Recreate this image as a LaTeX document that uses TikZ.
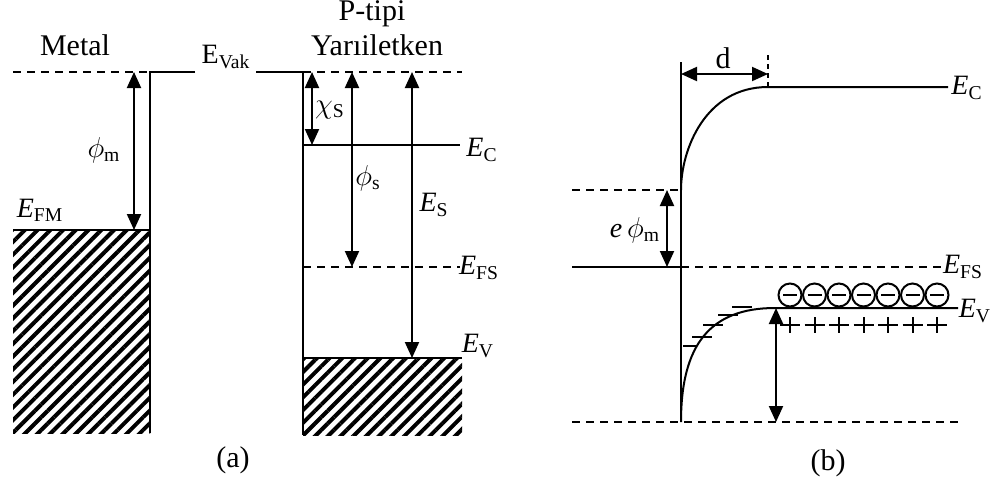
\documentclass[tikz,border=0pt]{standalone}
\usepackage{fontspec}
\setmainfont{Liberation Serif}
\usepackage{tikz}
\usetikzlibrary{arrows.meta,patterns.meta}

\newcommand{\Eseviye}[1]{\textit{E}\textsubscript{#1}}

\begin{document}
\begin{tikzpicture}[x=0.5pt, y=-0.5pt, line width=1pt,
  font=\fontsize{14}{16}\selectfont,
  baslik/.style={font=\fontsize{15}{17}\selectfont},
  kesik/.style={dash pattern=on 4pt off 3pt},
  ok/.style={{Triangle[length=8pt,width=7pt]}-{Triangle[length=8pt,width=7pt]}},
  tarali/.style={pattern={Lines[angle=45,distance=4.5pt,line width=2pt]}}]

\useasboundingbox (0,0) rectangle (1000,484);

% (a) Metal
\fill[tarali] (13,230) rectangle (150,433);
\draw (13,230) -- (150,230);
\draw[kesik] (13,72) -- (150,72);
\draw (195,72) -- (150,72) -- (150,433);

% (a) Yariiletken
\fill[tarali] (303,358) rectangle (462,435);
\draw (256,72) -- (303,72) -- (303,435);
\draw[kesik] (303,72) -- (462,72);
\draw (303,145) -- (460,145);
\draw[kesik] (303,267) -- (460,267);
\draw (303,358) -- (462,358);

% Oklar
\coordinate (phim1) at (134,72);
\coordinate (phim2) at (134,230);
\coordinate (chi1) at (312,72);
\coordinate (chi2) at (312,145);
\coordinate (phis1) at (352,72);
\coordinate (phis2) at (352,267);
\coordinate (es1) at (412,72);
\coordinate (es2) at (412,358);
\draw[ok] (phim1) -- (phim2);
\draw[ok] (chi1) -- (chi2);
\draw[ok] (phis1) -- (phis2);
\draw[ok] (es1) -- (es2);

% Etiketler
\node[baslik] (metal) at (75,45) {Metal};
\node[baslik] (ptipi) at (372,14) {P-tipi};
\node[baslik] (yari) at (377,45) {Yarıiletken};
\node (evak) at (226,57) {E\textsubscript{Vak}};
\node (efm) at (40,210) {\Eseviye{FM}};
\node (phim) at (104,150) {$\phi$\textsubscript{m}};
\node (chis) at (330,110) {$\chi$\textsubscript{S}};
\node (phis) at (368,178) {$\phi$\textsubscript{s}};
\node (es) at (434,205) {\Eseviye{S}};
\node (ec) at (482,150) {\Eseviye{C}};
\node (efs) at (479,268) {\Eseviye{FS}};
\node (ev) at (478,346) {\Eseviye{V}};
\node[baslik] (a) at (233,460) {(a)};

% (b) Bant bukulmesi
\draw (681,62) -- (681,422);
\draw (681,190) .. controls (681,150) and (705,87) .. (768,87) -- (948,87);
\draw (681,422) .. controls (681,345) and (710,308) .. (775,308) -- (958,308);
\draw[kesik] (572,190) -- (681,190);
\draw (572,267) -- (681,267);
\draw[kesik] (681,267) -- (945,267);
\draw[kesik] (572,422) -- (960,422);
\draw[dash pattern=on 2.5pt off 2pt] (768,55) -- (768,87);

% Yuzey durumlari
\draw (732,307) -- (752,307);
\draw (718,315) -- (738,315);
\draw (703,325) -- (723,325);
\draw (692,337) -- (712,337);
\draw (683,346) -- (697,346);

% Yukler
\foreach \i in {0,...,6} {
  \draw (790+24.5*\i,295) circle[radius=11.5];
  \draw (783+24.5*\i,295) -- (797+24.5*\i,295);
  \draw (780+24.5*\i,325) -- (800+24.5*\i,325);
  \draw (790+24.5*\i,317) -- (790+24.5*\i,333);
}

% Oklar
\coordinate (d1) at (681,74);
\coordinate (d2) at (768,74);
\coordinate (ephi1) at (667,190);
\coordinate (ephi2) at (667,267);
\coordinate (vb1) at (776,308);
\coordinate (vb2) at (776,422);
\draw[ok] (d1) -- (d2);
\draw[ok] (ephi1) -- (ephi2);
\draw[ok] (vb1) -- (vb2);

% Etiketler
\node[baslik] (d) at (723,58) {d};
\node (ephim) at (635,230) {\textit{e}\,$\phi$\textsubscript{m}};
\node (ecb) at (967,88) {\Eseviye{C}};
\node (efsb) at (963,267) {\Eseviye{FS}};
\node (evb) at (975,311) {\Eseviye{V}};
\node[baslik] (b) at (828,463) {(b)};

\end{tikzpicture}
\end{document}
